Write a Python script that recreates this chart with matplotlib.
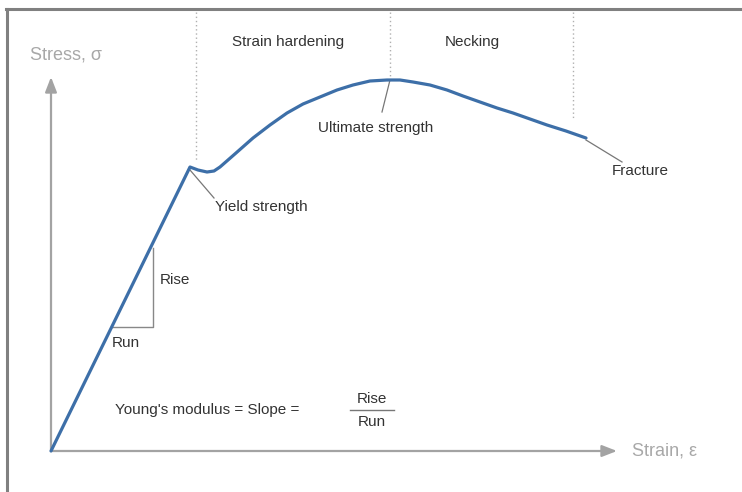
import matplotlib
matplotlib.use("Agg")
import matplotlib.pyplot as plt
from matplotlib.lines import Line2D

plt.rcParams["font.family"] = ["Liberation Sans", "DejaVu Sans"]

# Engineering stress-strain curve (schematic units: strain, stress in MPa)
strain = [0.000, 0.139, 0.147, 0.156, 0.163, 0.169, 0.185, 0.202, 0.219,
          0.236, 0.252, 0.269, 0.286, 0.302, 0.319, 0.336, 0.349, 0.362,
          0.379, 0.396, 0.412, 0.429, 0.446, 0.462, 0.479, 0.496, 0.515,
          0.535]
stress = [0, 284, 281, 279, 280, 284, 298, 313, 326,
          338, 347, 354, 361, 366, 370, 371, 371, 369,
          366, 361, 355, 349, 343, 338, 332, 326, 320,
          313]

yield_strain, yield_stress = 0.139, 284
uts_strain, uts_stress = 0.339, 371
fracture_strain, fracture_stress = 0.535, 313

# Region boundaries (strain) and region labels
boundaries = [0.145, 0.339, 0.522]
boundary_bottoms = [291, 372, 331]
regions = ["Strain hardening", "Necking"]
region_centers = [0.237, 0.421]

# Rise / run triangle on the elastic line
run_stress, rise_top = 124, 203
run_end = 0.102

axis_x_end, axis_y_end = 0.566, 374

fig = plt.figure(figsize=(7.42, 4.92), dpi=100)
ax = fig.add_axes([0, 0, 1, 1])
ax.set_xlim(-0.051, 0.691)
ax.set_ylim(-41, 451)
ax.axis("off")

# Outer frame (top and left edges)
fig.add_artist(Line2D([6 / 742, 1], [1 - 8.5 / 492, 1 - 8.5 / 492],
                      transform=fig.transFigure, color="#808080", lw=2.2))
fig.add_artist(Line2D([7 / 742, 7 / 742], [0, 1 - 8.5 / 492],
                      transform=fig.transFigure, color="#808080", lw=2.2))

axis_color = "#a3a3a3"
arrow_kw = dict(arrowstyle="-|>,head_length=0.9,head_width=0.35",
                color=axis_color, lw=1.6, shrinkA=0, shrinkB=0)
ax.annotate("", xy=(axis_x_end, 0), xytext=(0, 0), arrowprops=arrow_kw)
ax.annotate("", xy=(0, axis_y_end), xytext=(0, 0), arrowprops=arrow_kw)
ax.text(-0.021, 396, "Stress, σ", fontsize=13, color="#a8a8a8",
        ha="left", va="center")
ax.text(0.581, 0, "Strain, ε", fontsize=13, color="#a8a8a8",
        ha="left", va="center")

# Region boundaries
for xb, yb in zip(boundaries, boundary_bottoms):
    ax.plot([xb, xb], [439, yb], color="#b0b0b0", lw=1.0,
            linestyle=(0, (1, 2)))
for label, xc in zip(regions, region_centers):
    ax.text(xc, 409, label, fontsize=11, color="#333333",
            ha="center", va="center")

# Curve
ax.plot(strain, stress, color="#3d6fa8", lw=2.3, solid_joinstyle="round",
        solid_capstyle="round", zorder=5)

# Leader lines and point labels
lead = dict(color="#777777", lw=0.9)
ax.plot([yield_strain, 0.163], [yield_stress - 3, 253], **lead)
ax.text(0.164, 244, "Yield strength", fontsize=11, color="#333333",
        ha="left", va="center")
ax.plot([uts_strain, 0.331], [uts_stress, 339], **lead)
ax.text(0.267, 323, "Ultimate strength", fontsize=11, color="#333333",
        ha="left", va="center")
ax.plot([fracture_strain, 0.571], [fracture_stress - 2, 289], **lead)
ax.text(0.561, 280, "Fracture", fontsize=11, color="#333333",
        ha="left", va="center")

# Rise / run triangle
modulus = yield_stress / yield_strain
run_start = run_stress / modulus
ax.plot([run_start, run_end, run_end], [run_stress, run_stress, rise_top],
        color="#888888", lw=1.0)
ax.text(0.109, 171, "Rise", fontsize=11, color="#333333",
        ha="left", va="center")
ax.text(0.061, 108, "Run", fontsize=11, color="#333333",
        ha="left", va="center")

# Young's modulus definition
ax.text(0.064, 41, "Young's modulus = Slope =", fontsize=11,
        color="#333333", ha="left", va="center")
ax.text(0.321, 52, "Rise", fontsize=11, color="#333333",
        ha="center", va="center")
ax.plot([0.299, 0.343], [41, 41], color="#777777", lw=1.0)
ax.text(0.321, 29, "Run", fontsize=11, color="#333333",
        ha="center", va="center")

fig.savefig("out.png", dpi=100)
